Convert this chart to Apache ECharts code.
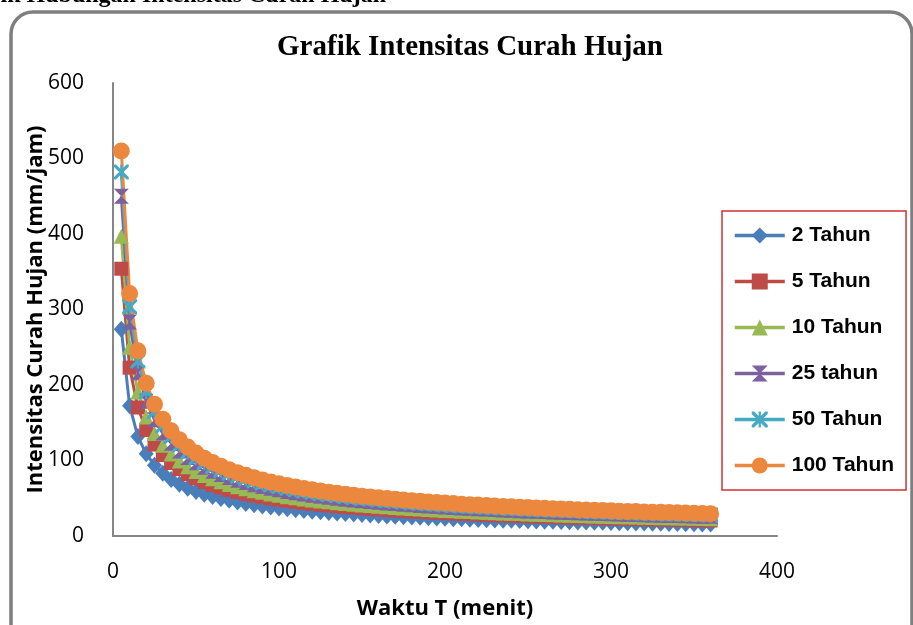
<!DOCTYPE html>
<html>
<head>
<meta charset="utf-8">
<script src="https://cdn.jsdelivr.net/npm/echarts@6/dist/echarts.min.js"></script>
<style>
  html, body { margin: 0; padding: 0; background: #fff; }
  #chart { width: 913px; height: 625px; }
</style>
</head>
<body>
<div id="chart"></div>
<script>
// waktu (menit)
const times = [
  5, 10, 15, 20, 25, 30, 35, 40, 45, 50,
  55, 60, 65, 70, 75, 80, 85, 90, 95, 100,
  105, 110, 115, 120, 125, 130, 135, 140, 145, 150,
  155, 160, 165, 170, 175, 180, 185, 190, 195, 200,
  205, 210, 215, 220, 225, 230, 235, 240, 245, 250,
  255, 260, 265, 270, 275, 280, 285, 290, 295, 300,
  305, 310, 315, 320, 325, 330, 335, 340, 345, 350,
  355, 360
]

// intensitas curah hujan (mm/jam) tiap periode ulang
const tahun2 = [
  274, 172.6, 131.7, 108.8, 93.7, 83.0, 74.9, 68.5, 63.3, 59.0,
  55.3, 52.3, 49.6, 47.2, 45.0, 43.2, 41.4, 39.9, 38.5, 37.2,
  36.0, 34.9, 33.8, 32.9, 32.1, 31.2, 30.4, 29.7, 29.0, 28.4,
  27.8, 27.2, 26.6, 26.1, 25.6, 25.1, 24.7, 24.2, 23.8, 23.4,
  23.0, 22.7, 22.3, 22.0, 21.6, 21.3, 21.0, 20.7, 20.5, 20.2,
  19.9, 19.7, 19.4, 19.2, 19.0, 18.7, 18.5, 18.3, 18.1, 17.9,
  17.7, 17.5, 17.3, 17.1, 17.0, 16.8, 16.6, 16.5, 16.3, 16.2,
  16.0, 15.9
]
const tahun5 = [
  354, 223.0, 170.2, 140.5, 121.1, 107.2, 96.7, 88.5, 81.8, 76.3,
  71.5, 67.5, 64.1, 60.9, 58.2, 55.8, 53.5, 51.5, 49.7, 48.0,
  46.5, 45.1, 43.7, 42.5, 41.4, 40.4, 39.3, 38.4, 37.5, 36.7,
  35.9, 35.1, 34.4, 33.7, 33.1, 32.5, 31.9, 31.3, 30.8, 30.3,
  29.8, 29.3, 28.8, 28.4, 28.0, 27.6, 27.2, 26.8, 26.4, 26.1,
  25.7, 25.4, 25.1, 24.8, 24.5, 24.2, 23.9, 23.6, 23.4, 23.1,
  22.9, 22.7, 22.4, 22.1, 21.9, 21.7, 21.5, 21.3, 21.1, 20.9,
  20.7, 20.5
]
const tahun10 = [
  397, 250.1, 190.8, 157.6, 135.8, 120.3, 108.5, 99.3, 91.7, 85.5,
  80.2, 75.7, 71.9, 68.3, 65.3, 62.5, 60.0, 57.8, 55.7, 53.9,
  52.1, 50.5, 49.0, 47.7, 46.4, 45.3, 44.1, 43.1, 42.1, 41.1,
  40.3, 39.4, 38.6, 37.8, 37.1, 36.4, 35.8, 35.1, 34.5, 33.9,
  33.4, 32.8, 32.3, 31.8, 31.4, 30.9, 30.5, 30.1, 29.7, 29.3,
  28.9, 28.5, 28.1, 27.8, 27.5, 27.2, 26.8, 26.5, 26.2, 25.9,
  25.6, 25.4, 25.1, 24.8, 24.6, 24.3, 24.1, 23.9, 23.7, 23.4,
  23.2, 23.0
]
const tahun25 = [
  450, 283.5, 216.3, 178.6, 153.9, 136.3, 123.0, 112.5, 104.0, 96.9,
  90.9, 85.9, 81.5, 77.4, 74.0, 70.9, 68.0, 65.5, 63.2, 61.1,
  59.1, 57.3, 55.6, 54.0, 52.7, 51.3, 50.0, 48.8, 47.7, 46.6,
  45.6, 44.6, 43.7, 42.9, 42.1, 41.3, 40.5, 39.8, 39.1, 38.5,
  37.8, 37.2, 36.6, 36.1, 35.6, 35.1, 34.6, 34.1, 33.6, 33.2,
  32.7, 32.3, 31.9, 31.5, 31.1, 30.8, 30.4, 30.1, 29.7, 29.4,
  29.1, 28.8, 28.5, 28.1, 27.9, 27.6, 27.3, 27.0, 26.8, 26.6,
  26.3, 26.1
]
const tahun50 = [
  482, 303.7, 231.7, 191.3, 164.8, 146.0, 131.7, 120.5, 111.4, 103.8,
  97.4, 92.0, 87.2, 83.0, 79.2, 75.9, 72.9, 70.2, 67.7, 65.4,
  63.3, 61.4, 59.5, 57.9, 56.4, 54.9, 53.6, 52.3, 51.1, 49.9,
  48.9, 47.8, 46.9, 45.9, 45.1, 44.2, 43.4, 42.7, 41.9, 41.2,
  40.5, 39.9, 39.2, 38.7, 38.1, 37.5, 37.0, 36.5, 36.0, 35.5,
  35.0, 34.6, 34.2, 33.7, 33.4, 33.0, 32.6, 32.2, 31.9, 31.5,
  31.1, 30.8, 30.5, 30.1, 29.9, 29.5, 29.3, 29.0, 28.7, 28.4,
  28.2, 27.9
]
const tahun100 = [
  510, 321.3, 245.2, 202.4, 174.4, 154.5, 139.4, 127.5, 117.9, 109.9,
  103.0, 97.3, 92.3, 87.8, 83.8, 80.3, 77.1, 74.3, 71.6, 69.2,
  67.0, 64.9, 63.0, 61.3, 59.7, 58.1, 56.7, 55.3, 54.1, 52.8,
  51.7, 50.6, 49.6, 48.6, 47.7, 46.8, 46.0, 45.1, 44.3, 43.6,
  42.9, 42.2, 41.5, 40.9, 40.3, 39.7, 39.2, 38.6, 38.1, 37.6,
  37.1, 36.6, 36.2, 35.7, 35.3, 34.9, 34.5, 34.1, 33.7, 33.3,
  32.9, 32.6, 32.3, 31.9, 31.6, 31.3, 31.0, 30.7, 30.4, 30.1,
  29.8, 29.5
]

const seriesNames = ['2 Tahun', '5 Tahun', '10 Tahun', '25 tahun', '50 Tahun', '100 Tahun']
const seriesValues = [tahun2, tahun5, tahun10, tahun25, tahun50, tahun100]
const colors = ['#4A7EBB', '#BE4B48', '#98B954', '#7D60A0', '#46AAC5', '#EB883E']
const symbols = [
  'diamond',
  'rect',
  'triangle',
  'path://M0,0L10,0L5,5L10,10L0,10L5,5Z', // jam pasir
  'path://M0,0L1.5,0L10,8.5L10,10L8.5,10L0,1.5Z M10,0L10,1.5L1.5,10L0,10L0,8.5L8.5,0Z M4.3,0L5.7,0L5.7,10L4.3,10Z',
  'circle'
]
const symbolSizes = [[15, 17], 14, 15, 15, 15, 17]

const chart = echarts.init(document.getElementById('chart'))

const axisText = { fontFamily: 'Open Sans', fontSize: 21, color: '#000' }
const axisLine = { lineStyle: { color: '#868686', width: 2 } }

const option = {
  animation: false,
  backgroundColor: '#fff',
  color: colors,
  grid: { left: 113, right: 136, top: 83, bottom: 89 },
  graphic: [
    {
      type: 'rect',
      shape: { x: 11, y: 12, width: 901, height: 660, r: 22 },
      style: { fill: 'none', stroke: '#7F7F7F', lineWidth: 3.5 },
      silent: true
    },
    {
      type: 'text',
      x: 386, y: 8,
      style: {
        text: 'Grafik Hubungan Intensitas Curah Hujan',
        fontFamily: 'Liberation Serif', fontWeight: 'bold', fontSize: 24,
        fill: '#000', textAlign: 'right', textVerticalAlign: 'bottom'
      }
    },
    {
      type: 'text',
      x: 470, y: 48,
      style: {
        text: 'Grafik Intensitas Curah Hujan',
        fontFamily: 'Liberation Serif', fontWeight: 'bold', fontSize: 29,
        fill: '#000', textAlign: 'center', textVerticalAlign: 'middle'
      }
    }
  ],
  legend: {
    orient: 'vertical',
    left: 722, top: 211,
    padding: [14, 12, 14, 11],
    itemGap: 25,
    itemWidth: 50,
    itemHeight: 20,
    borderColor: '#D03030',
    borderWidth: 1.5,
    backgroundColor: '#fff',
    lineStyle: { width: 3.5 },
    textStyle: { fontFamily: 'Liberation Sans', fontWeight: 'bold', fontSize: 21, color: '#000', padding: [0, 0, 0, 2] },
    data: seriesNames
  },
  xAxis: {
    type: 'value',
    min: 0, max: 400, interval: 100,
    name: 'Waktu T (menit)',
    nameLocation: 'middle',
    nameGap: 62,
    nameMoveOverlap: false,
    nameTextStyle: { fontFamily: 'Open Sans', fontWeight: 'bold', fontSize: 22, color: '#000' },
    axisLine: axisLine,
    axisTick: { show: false },
    splitLine: { show: false },
    axisLabel: { ...axisText, margin: 26 }
  },
  yAxis: {
    type: 'value',
    min: 0, max: 600, interval: 100,
    name: 'Intensitas Curah Hujan (mm/jam)',
    nameLocation: 'middle',
    nameGap: 66,
    nameMoveOverlap: false,
    nameTextStyle: { fontFamily: 'Open Sans', fontWeight: 'bold', fontSize: 22, color: '#000' },
    axisLine: { show: true, ...axisLine },
    axisTick: { show: false },
    splitLine: { show: false },
    axisLabel: { ...axisText, align: 'right', margin: 29 }
  },
  series: seriesNames.map((name, i) => ({
    name: name,
    type: 'line',
    data: times.map((t, j) => [t, seriesValues[i][j]]),
    symbol: symbols[i],
    symbolSize: symbolSizes[i],
    lineStyle: { width: 3, color: colors[i] },
    itemStyle: { color: colors[i] }
  }))
}

chart.setOption(option)
</script>
</body>
</html>
